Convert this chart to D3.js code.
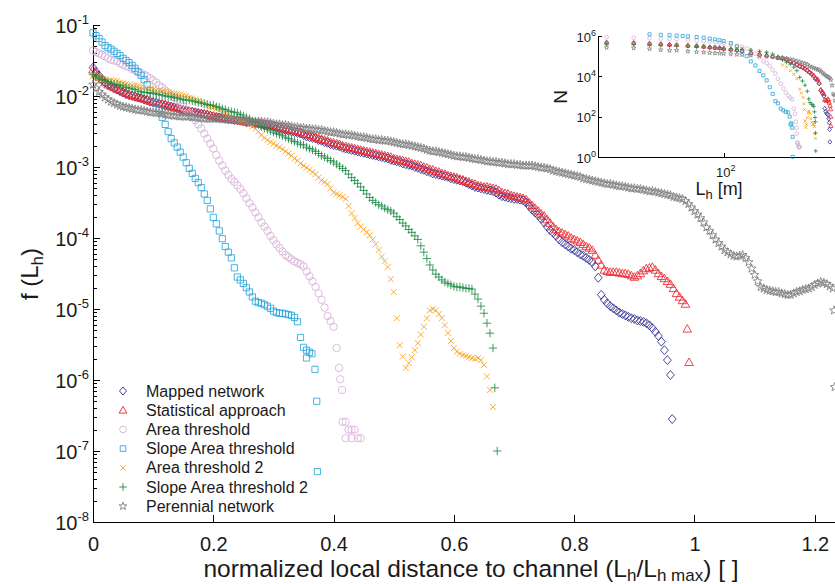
<!DOCTYPE html>
<html>
<head>
<meta charset="utf-8">
<script src="https://cdn.jsdelivr.net/npm/d3@7"></script>
<style>
  body { margin: 0; background: #fff; }
  svg { font-family: "Liberation Sans", Arial, Helvetica, sans-serif; }
  .axis path, .axis line { stroke: #000; stroke-width: 1; shape-rendering: crispEdges; }
</style>
</head>
<body>
<div id="chart"></div>
<script>
//svg size
let svgWidth = 835;
let svgHeight = 584;

/********************************************/
// main plot data: log10 f(Lh), one value every binStep of normalized distance, starting at 0
let binStep = 0.005;

let mappedNetwork = [
  -1.60, -1.66, -1.71, -1.77, -1.81, -1.84, -1.86, -1.89, -1.91, -1.93,
  -1.95, -1.97, -1.99, -2.00, -2.01, -2.02, -2.03, -2.05, -2.06, -2.08,
  -2.09, -2.10, -2.11, -2.12, -2.13, -2.14, -2.15, -2.16, -2.17, -2.19,
  -2.20, -2.21, -2.22, -2.22, -2.23, -2.24, -2.25, -2.26, -2.27, -2.28,
  -2.29, -2.30, -2.30, -2.31, -2.32, -2.33, -2.33, -2.34, -2.34, -2.35,
  -2.36, -2.37, -2.37, -2.38, -2.39, -2.39, -2.40, -2.41, -2.41, -2.42,
  -2.43, -2.45, -2.46, -2.47, -2.48, -2.49, -2.50, -2.51, -2.52, -2.53,
  -2.55, -2.57, -2.58, -2.59, -2.60, -2.62, -2.63, -2.65, -2.66, -2.68,
  -2.69, -2.70, -2.71, -2.73, -2.74, -2.75, -2.76, -2.77, -2.78, -2.79,
  -2.80, -2.81, -2.82, -2.83, -2.84, -2.85, -2.86, -2.87, -2.88, -2.90,
  -2.91, -2.92, -2.93, -2.95, -2.96, -2.97, -2.98, -3.00, -3.01, -3.03,
  -3.04, -3.06, -3.07, -3.09, -3.10, -3.11, -3.12, -3.13, -3.14, -3.16,
  -3.17, -3.18, -3.19, -3.20, -3.22, -3.24, -3.26, -3.28, -3.29, -3.30,
  -3.31, -3.32, -3.33, -3.34, -3.36, -3.39, -3.41, -3.42, -3.43, -3.44,
  -3.45, -3.45, -3.46, -3.47, -3.50, -3.55, -3.60, -3.64, -3.68, -3.73,
  -3.78, -3.84, -3.89, -3.93, -3.97, -4.02, -4.06, -4.09, -4.12, -4.15,
  -4.17, -4.20, -4.23, -4.25, -4.28, -4.31, -4.34, -4.40, -4.56, -4.80,
  -4.87, -4.92, -4.96, -4.99, -5.02, -5.05, -5.07, -5.09, -5.11, -5.13,
  -5.14, -5.16, -5.17, -5.18, -5.20, -5.23, -5.27, -5.32, -5.38, -5.46,
  -5.58, -5.72, -5.93];
let mappedTail = [[0.963, -6.55]];

let statisticalApproach = [
  -1.63, -1.68, -1.73, -1.77, -1.81, -1.84, -1.86, -1.88, -1.90, -1.92,
  -1.94, -1.96, -1.98, -1.99, -2.00, -2.02, -2.03, -2.04, -2.05, -2.07,
  -2.08, -2.09, -2.10, -2.11, -2.12, -2.14, -2.15, -2.16, -2.17, -2.18,
  -2.19, -2.20, -2.21, -2.22, -2.23, -2.24, -2.25, -2.25, -2.26, -2.27,
  -2.28, -2.29, -2.30, -2.30, -2.31, -2.32, -2.33, -2.33, -2.34, -2.35,
  -2.35, -2.36, -2.37, -2.37, -2.38, -2.38, -2.39, -2.40, -2.41, -2.41,
  -2.42, -2.43, -2.44, -2.45, -2.46, -2.47, -2.48, -2.49, -2.50, -2.51,
  -2.53, -2.54, -2.55, -2.56, -2.58, -2.59, -2.61, -2.62, -2.63, -2.65,
  -2.66, -2.67, -2.68, -2.70, -2.71, -2.72, -2.73, -2.74, -2.75, -2.76,
  -2.77, -2.78, -2.79, -2.80, -2.81, -2.82, -2.83, -2.84, -2.85, -2.86,
  -2.88, -2.89, -2.90, -2.91, -2.92, -2.93, -2.95, -2.96, -2.97, -2.98,
  -3.00, -3.01, -3.03, -3.04, -3.06, -3.07, -3.09, -3.10, -3.12, -3.13,
  -3.14, -3.15, -3.17, -3.18, -3.20, -3.21, -3.23, -3.24, -3.26, -3.27,
  -3.28, -3.28, -3.29, -3.30, -3.31, -3.33, -3.36, -3.37, -3.38, -3.40,
  -3.41, -3.42, -3.43, -3.44, -3.46, -3.50, -3.54, -3.58, -3.62, -3.66,
  -3.69, -3.74, -3.79, -3.84, -3.88, -3.91, -3.93, -3.95, -3.97, -4.00,
  -4.02, -4.04, -4.06, -4.09, -4.12, -4.14, -4.17, -4.24, -4.31, -4.38,
  -4.45, -4.47, -4.48, -4.48, -4.48, -4.49, -4.50, -4.50, -4.51, -4.53,
  -4.55, -4.53, -4.50, -4.46, -4.43, -4.42, -4.41, -4.45, -4.50, -4.54,
  -4.57, -4.61, -4.65, -4.71, -4.78, -4.83, -4.88];
let statisticalTail = [[0.985, -4.93], [0.988, -5.28], [0.991, -5.75]];

let areaThreshold = [
  -1.36, -1.38, -1.40, -1.42, -1.44, -1.47, -1.49, -1.50, -1.51, -1.54,
  -1.56, -1.58, -1.59, -1.62, -1.64, -1.66, -1.68, -1.70, -1.72, -1.75,
  -1.78, -1.81, -1.85, -1.88, -1.92, -1.95, -1.99, -2.02, -2.06, -2.10,
  -2.15, -2.19, -2.24, -2.29, -2.34, -2.40, -2.46, -2.53, -2.60, -2.67,
  -2.74, -2.83, -2.91, -2.98, -3.05, -3.11, -3.17, -3.21, -3.26, -3.31,
  -3.37, -3.44, -3.51, -3.57, -3.64, -3.71, -3.78, -3.84, -3.90, -3.97,
  -4.03, -4.09, -4.14, -4.19, -4.24, -4.27, -4.30, -4.33, -4.35, -4.37,
  -4.40, -4.47, -4.54, -4.61, -4.69, -4.78, -4.87, -4.98, -5.10, -5.17,
  -5.25];
let areaTail = [[0.405, -5.55], [0.409, -5.83], [0.411, -5.99], [0.414, -6.14],
  [0.415, -6.59], [0.42, -6.59], [0.425, -6.70], [0.43, -6.70], [0.435, -6.70],
  [0.42, -6.82], [0.43, -6.82], [0.44, -6.82], [0.445, -6.82]];

let slopeAreaThreshold = [
  -1.11, -1.15, -1.19, -1.24, -1.29, -1.32, -1.34, -1.37, -1.40, -1.43,
  -1.47, -1.50, -1.53, -1.57, -1.61, -1.66, -1.71, -1.77, -1.84, -1.92,
  -2.01, -2.10, -2.20, -2.30, -2.40, -2.50, -2.60, -2.66, -2.72, -2.79,
  -2.86, -2.94, -3.02, -3.09, -3.16, -3.22, -3.29, -3.38, -3.47, -3.59,
  -3.71, -3.80, -3.90, -4.01, -4.12, -4.20, -4.28, -4.42, -4.55, -4.59,
  -4.64, -4.70, -4.76, -4.83, -4.89, -4.91, -4.92, -4.94, -4.96, -4.99,
  -5.03, -5.05, -5.06, -5.06, -5.07, -5.08, -5.09, -5.12, -5.18, -5.40,
  -5.54, -5.58, -5.61];
let slopeAreaTail = [[0.355, -5.69], [0.364, -5.63], [0.369, -5.85], [0.372, -6.30], [0.373, -7.29]];

let areaThreshold2 = [
  -1.72, -1.74, -1.75, -1.76, -1.77, -1.78, -1.78, -1.79, -1.79, -1.81,
  -1.82, -1.83, -1.84, -1.85, -1.85, -1.86, -1.87, -1.88, -1.89, -1.90,
  -1.91, -1.92, -1.92, -1.93, -1.94, -1.95, -1.96, -1.97, -1.97, -1.98,
  -1.99, -2.00, -2.02, -2.03, -2.05, -2.07, -2.09, -2.11, -2.13, -2.15,
  -2.16, -2.18, -2.20, -2.22, -2.24, -2.26, -2.29, -2.31, -2.33, -2.35,
  -2.36, -2.38, -2.40, -2.43, -2.46, -2.50, -2.55, -2.59, -2.62, -2.65,
  -2.67, -2.70, -2.72, -2.75, -2.78, -2.81, -2.84, -2.88, -2.91, -2.95,
  -2.98, -3.01, -3.04, -3.07, -3.10, -3.15, -3.19, -3.21, -3.24, -3.30,
  -3.36, -3.38, -3.40, -3.42, -3.45, -3.55, -3.65, -3.72, -3.79, -3.84,
  -3.88, -3.92, -3.96, -4.02, -4.09, -4.17, -4.26, -4.33, -4.41, -4.58,
  -4.76, -5.13, -5.51, -5.67, -5.83, -5.76, -5.68, -5.58, -5.48, -5.36,
  -5.25, -5.13, -5.02, -5.00, -5.02, -5.07, -5.13, -5.23, -5.34, -5.45,
  -5.55, -5.60, -5.63, -5.65, -5.66, -5.68, -5.69, -5.70, -5.69, -5.72,
  -5.79, -5.95, -6.14];
let area2Tail = [[0.665, -6.38]];

let slopeAreaThreshold2 = [
  -1.70, -1.73, -1.75, -1.77, -1.78, -1.80, -1.82, -1.83, -1.84, -1.85,
  -1.86, -1.88, -1.89, -1.90, -1.91, -1.93, -1.94, -1.95, -1.95, -1.96,
  -1.96, -1.97, -1.98, -1.99, -2.00, -2.01, -2.01, -2.02, -2.03, -2.04,
  -2.05, -2.06, -2.06, -2.07, -2.08, -2.09, -2.10, -2.11, -2.12, -2.13,
  -2.13, -2.15, -2.16, -2.18, -2.19, -2.21, -2.22, -2.23, -2.24, -2.26,
  -2.28, -2.30, -2.32, -2.35, -2.37, -2.40, -2.43, -2.45, -2.47, -2.49,
  -2.51, -2.53, -2.54, -2.56, -2.58, -2.60, -2.62, -2.64, -2.66, -2.68,
  -2.69, -2.72, -2.74, -2.76, -2.78, -2.81, -2.84, -2.86, -2.88, -2.91,
  -2.93, -2.96, -2.99, -3.02, -3.05, -3.10, -3.15, -3.19, -3.23, -3.28,
  -3.33, -3.38, -3.43, -3.47, -3.50, -3.53, -3.55, -3.58, -3.60, -3.62,
  -3.65, -3.70, -3.74, -3.79, -3.83, -3.88, -3.92, -3.97, -4.02, -4.11,
  -4.20, -4.29, -4.38, -4.45, -4.51, -4.55, -4.59, -4.62, -4.64, -4.66,
  -4.68, -4.69, -4.69, -4.70, -4.71, -4.71, -4.72, -4.79, -4.86, -4.96,
  -5.06, -5.20, -5.34];
let slopeArea2Tail = [[0.665, -5.55], [0.668, -6.11], [0.672, -7.00]];

let perennialNetwork = [
  -1.84, -1.89, -1.94, -1.98, -2.02, -2.05, -2.08, -2.10, -2.12, -2.14,
  -2.15, -2.16, -2.17, -2.18, -2.19, -2.20, -2.20, -2.21, -2.22, -2.23,
  -2.23, -2.24, -2.24, -2.25, -2.26, -2.27, -2.27, -2.28, -2.28, -2.29,
  -2.29, -2.29, -2.29, -2.30, -2.30, -2.31, -2.31, -2.32, -2.32, -2.32,
  -2.32, -2.32, -2.32, -2.33, -2.33, -2.33, -2.33, -2.34, -2.34, -2.34,
  -2.34, -2.35, -2.35, -2.36, -2.36, -2.36, -2.36, -2.37, -2.37, -2.38,
  -2.39, -2.40, -2.40, -2.41, -2.41, -2.42, -2.43, -2.44, -2.44, -2.45,
  -2.45, -2.46, -2.46, -2.47, -2.47, -2.48, -2.48, -2.49, -2.50, -2.51,
  -2.51, -2.52, -2.53, -2.54, -2.54, -2.55, -2.55, -2.56, -2.57, -2.58,
  -2.58, -2.59, -2.60, -2.61, -2.61, -2.62, -2.62, -2.63, -2.63, -2.64,
  -2.65, -2.66, -2.67, -2.68, -2.68, -2.69, -2.70, -2.71, -2.72, -2.73,
  -2.74, -2.76, -2.77, -2.78, -2.78, -2.79, -2.80, -2.81, -2.82, -2.83,
  -2.84, -2.85, -2.85, -2.86, -2.86, -2.87, -2.88, -2.89, -2.89, -2.90,
  -2.91, -2.92, -2.92, -2.93, -2.93, -2.94, -2.94, -2.95, -2.96, -2.96,
  -2.96, -2.97, -2.97, -2.98, -2.98, -2.98, -2.98, -2.99, -3.00, -3.01,
  -3.01, -3.02, -3.03, -3.05, -3.06, -3.07, -3.08, -3.09, -3.10, -3.11,
  -3.12, -3.13, -3.14, -3.16, -3.17, -3.18, -3.19, -3.20, -3.21, -3.22,
  -3.23, -3.24, -3.24, -3.25, -3.26, -3.27, -3.27, -3.28, -3.29, -3.30,
  -3.30, -3.31, -3.31, -3.32, -3.33, -3.34, -3.34, -3.35, -3.36, -3.37,
  -3.38, -3.39, -3.40, -3.42, -3.43, -3.44, -3.45, -3.48, -3.52, -3.57,
  -3.62, -3.67, -3.72, -3.78, -3.85, -3.90, -3.96, -4.02, -4.07, -4.12,
  -4.17, -4.20, -4.23, -4.25, -4.26, -4.25, -4.24, -4.28, -4.34, -4.43,
  -4.52, -4.61, -4.69, -4.71, -4.73, -4.74, -4.75, -4.76, -4.76, -4.78,
  -4.79, -4.80, -4.80, -4.78, -4.76, -4.75, -4.73, -4.72, -4.71, -4.69,
  -4.66, -4.64, -4.62, -4.63, -4.65, -4.68, -4.71];
let perennialTail = [[1.232, -5.02], [1.233, -6.10]];

/********************************************/
// inset data: [Lh in m, log10 N]
let insetMapped = [[5, 5.68], [10, 5.66], [15, 5.63], [20, 5.6], [25, 5.57], [30, 5.55], [40, 5.52], [50, 5.5],
  [60, 5.47], [70, 5.44], [80, 5.42], [90, 5.4], [100, 5.37], [120, 5.33], [140, 5.3], [160, 5.26], [200, 5.15],
  [250, 5.08], [300, 5.03], [350, 4.98], [400, 4.92], [450, 4.89], [500, 4.82], [550, 4.72], [600, 4.66],
  [650, 4.57], [700, 4.49], [750, 4.44], [800, 4.37], [850, 4.28], [900, 4.19], [950, 4.11], [1000, 4.01],
  [1050, 3.86], [1100, 3.82], [1150, 3.64], [1200, 3.3], [1250, 3.16], [1300, 3.03], [1330, 2.4], [1360, 2.26],
  [1400, 2.15], [1440, 2.1], [1470, 1.9], [1490, 1.7], [1505, 1.37], [1512, 0.75]];
let insetStatistical = [[5, 5.67], [10, 5.65], [15, 5.62], [20, 5.6], [25, 5.58], [30, 5.56], [40, 5.53], [50, 5.51],
  [60, 5.48], [70, 5.45], [80, 5.43], [90, 5.41], [100, 5.38], [120, 5.34], [140, 5.31], [160, 5.27], [200, 5.17],
  [250, 5.1], [300, 5.05], [350, 5.0], [400, 4.94], [450, 4.9], [500, 4.84], [550, 4.75], [600, 4.69], [650, 4.6],
  [700, 4.53], [750, 4.47], [800, 4.4], [850, 4.32], [900, 4.22], [950, 4.14], [1000, 4.05], [1050, 3.92],
  [1100, 3.87], [1150, 3.7], [1200, 3.35], [1250, 3.25], [1300, 3.13], [1330, 2.85], [1360, 2.82], [1400, 2.78],
  [1430, 2.88], [1460, 2.85], [1490, 2.7], [1520, 2.55], [1540, 2.37], [1545, 2.0], [1550, 1.55]];
let insetArea = [[5, 5.93], [10, 5.91], [15, 5.89], [20, 5.87], [25, 5.86], [30, 5.84], [40, 5.8], [50, 5.78],
  [60, 5.75], [70, 5.73], [80, 5.7], [90, 5.67], [100, 5.65], [120, 5.59], [140, 5.52], [160, 5.46], [180, 5.38],
  [200, 5.27], [225, 5.12], [250, 4.95], [275, 4.75], [300, 4.66], [325, 4.52], [350, 4.32], [375, 4.14],
  [400, 3.88], [430, 3.63], [460, 3.4], [490, 3.2], [520, 3.05], [550, 2.95], [575, 2.85], [600, 2.4],
  [620, 2.15], [635, 1.75], [645, 1.45], [650, 1.16], [655, 0.71], [665, 0.71], [670, 0.6], [680, 0.5],
  [690, 0.48], [700, 0.5]];
let insetSlopeArea = [[15, 6.08], [20, 6.06], [25, 6.04], [30, 6.02], [35, 6.0], [40, 5.98], [50, 5.95], [60, 5.92],
  [70, 5.87], [80, 5.83], [90, 5.79], [100, 5.75], [120, 5.65], [140, 5.48], [160, 5.25], [180, 5.0], [200, 4.74],
  [225, 4.54], [250, 4.27], [275, 4.05], [300, 3.8], [325, 3.46], [350, 3.13], [375, 2.77], [400, 2.66],
  [430, 2.4], [460, 2.31], [490, 2.24], [520, 2.21], [540, 2.0], [555, 1.61], [565, 1.67], [578, 1.45],
  [583, 1.0], [585, 0.01]];
let insetArea2 = [[5, 5.57], [10, 5.56], [15, 5.56], [20, 5.55], [30, 5.54], [40, 5.53], [60, 5.51], [80, 5.48],
  [100, 5.47], [120, 5.45], [140, 5.41], [160, 5.39], [200, 5.35], [250, 5.26], [300, 5.18], [350, 5.05],
  [400, 4.92], [450, 4.56], [500, 4.47], [550, 4.28], [600, 4.1], [650, 3.88], [700, 3.37], [730, 3.17],
  [760, 2.95], [780, 2.64], [790, 2.35], [800, 1.79], [815, 1.47], [830, 1.62], [850, 1.95], [870, 2.2],
  [890, 2.28], [910, 2.17], [930, 1.9], [950, 1.72], [980, 1.64], [1000, 1.61], [1020, 1.51], [1035, 1.16],
  [1043, 0.92]];
let insetSlopeArea2 = [[5, 5.6], [10, 5.58], [15, 5.55], [20, 5.54], [25, 5.53], [30, 5.52], [40, 5.5], [50, 5.48],
  [60, 5.46], [70, 5.45], [80, 5.44], [90, 5.42], [100, 5.4], [120, 5.37], [140, 5.35], [160, 5.34], [200, 5.29],
  [250, 5.23], [300, 5.19], [350, 5.1], [400, 4.97], [450, 4.82], [500, 4.7], [550, 4.6], [600, 4.45],
  [650, 4.28], [700, 3.95], [750, 3.77], [800, 3.56], [850, 3.26], [880, 2.88], [910, 2.7], [950, 2.61],
  [980, 2.58], [1000, 2.5], [1020, 2.24], [1035, 1.96], [1043, 1.75], [1047, 1.19], [1054, 0.3]];
let insetPerennial = [[5, 5.43], [10, 5.4], [15, 5.36], [20, 5.31], [25, 5.28], [30, 5.29], [40, 5.24], [50, 5.21],
  [60, 5.19], [70, 5.17], [80, 5.15], [90, 5.14], [100, 5.13], [120, 5.11], [140, 5.08], [160, 5.07], [200, 5.04],
  [250, 5.01], [300, 4.98], [350, 4.97], [400, 4.95], [450, 4.93], [500, 4.89], [550, 4.85], [600, 4.81],
  [650, 4.76], [700, 4.71], [750, 4.67], [800, 4.63], [850, 4.59], [900, 4.49], [950, 4.46], [1000, 4.41],
  [1050, 4.38], [1100, 4.34], [1150, 4.32], [1200, 4.25], [1250, 4.18], [1300, 4.11], [1350, 4.06],
  [1400, 4.0], [1450, 3.97], [1500, 3.92], [1550, 3.83], [1600, 3.55], [1650, 3.12], [1700, 3.06], [1730, 2.8]];

// axis ticks
let yMajorExp = [-8, -7, -6, -5, -4, -3, -2, -1];
let xTickValues = [0, 0.2, 0.4, 0.6, 0.8, 1, 1.2];
let insetYExp = [0, 2, 4, 6];
let insetXExp = [2];

/********************************************/
// marker shapes (size = half width in px)
let markers = {
  diamond: { draw(c, r) { c.moveTo(0, -r * 1.15); c.lineTo(r, 0); c.lineTo(0, r * 1.15); c.lineTo(-r, 0); c.closePath(); } },
  triangle: { draw(c, r) { c.moveTo(0, -r); c.lineTo(r, r * 0.75); c.lineTo(-r, r * 0.75); c.closePath(); } },
  circle: { draw(c, r) { c.moveTo(r, 0); c.arc(0, 0, r, 0, 2 * Math.PI); } },
  square: { draw(c, r) { c.rect(-r, -r, 2 * r, 2 * r); } },
  cross: { draw(c, r) { c.moveTo(-r, -r); c.lineTo(r, r); c.moveTo(-r, r); c.lineTo(r, -r); } },
  plus: { draw(c, r) { c.moveTo(-r, 0); c.lineTo(r, 0); c.moveTo(0, -r); c.lineTo(0, r); } },
  star: {
    draw(c, r) {
      for (let i = 0; i < 10; i++) {
        let rad = i % 2 ? r * 0.4 : r;
        let a = -Math.PI / 2 + i * Math.PI / 5;
        if (i === 0) c.moveTo(rad * Math.cos(a), rad * Math.sin(a));
        else c.lineTo(rad * Math.cos(a), rad * Math.sin(a));
      }
      c.closePath();
    }
  }
};

let series = [
  { name: "Mapped network", values: mappedNetwork, tail: mappedTail, inset: insetMapped, shape: "diamond", size: 3.9, color: "#2d2a8c" },
  { name: "Statistical approach", values: statisticalApproach, tail: statisticalTail, inset: insetStatistical, shape: "triangle", size: 4.3, color: "#e8262e" },
  { name: "Area threshold", values: areaThreshold, tail: areaTail, inset: insetArea, shape: "circle", size: 3.7, color: "#d6b0d8" },
  { name: "Slope Area threshold", values: slopeAreaThreshold, tail: slopeAreaTail, inset: insetSlopeArea, shape: "square", size: 3.1, color: "#2aa7da" },
  { name: "Area threshold 2", values: areaThreshold2, tail: area2Tail, inset: insetArea2, shape: "cross", size: 3.0, color: "#f5a11c" },
  { name: "Slope Area threshold 2", values: slopeAreaThreshold2, tail: slopeArea2Tail, inset: insetSlopeArea2, shape: "plus", size: 4.2, color: "#1b8a44" },
  { name: "Perennial network", values: perennialNetwork, tail: perennialTail, inset: insetPerennial, shape: "star", size: 4.6, color: "#808080" }
];

/********************************************/
let svg = d3.select("#chart").append("svg")
  .attr("width", svgWidth)
  .attr("height", svgHeight);

let xScale = d3.scaleLinear().domain([0, 1.2336]).range([93, 835]);
let yScale = d3.scaleLog().domain([1e-8, 1e-1]).range([522, 25]);

let yMinor = [];
yMajorExp.forEach(e => { if (e < -1) for (let m = 2; m <= 9; m++) yMinor.push(m * Math.pow(10, e)); });

// minor y ticks
svg.append("g").attr("class", "axis").attr("transform", "translate(93,0)")
  .call(d3.axisLeft(yScale).tickValues(yMinor).tickSizeInner(-4).tickSizeOuter(0).tickFormat(""))
  .call(g => g.select(".domain").remove());

// major y ticks
svg.append("g").attr("class", "axis").attr("transform", "translate(93,0)")
  .call(d3.axisLeft(yScale).tickValues(yMajorExp.map(e => Math.pow(10, e)))
    .tickSizeInner(-7).tickSizeOuter(0).tickFormat(""));

yMajorExp.forEach(e => {
  let t = svg.append("text")
    .attr("x", 89)
    .attr("y", yScale(Math.pow(10, e)) + 8)
    .attr("text-anchor", "end")
    .attr("fill", "#1a1a1a");
  t.append("tspan").attr("font-size", 20).text("10");
  t.append("tspan").attr("font-size", 13).attr("dy", -9).text(e);
});

// x axis
svg.append("g").attr("class", "axis").attr("transform", "translate(0,522)")
  .call(d3.axisBottom(xScale).tickValues(xTickValues).tickSizeInner(-7).tickSizeOuter(0)
    .tickPadding(15).tickFormat(d3.format("")))
  .call(g => g.selectAll("text").attr("font-size", 20).attr("fill", "#1a1a1a")
    .attr("font-family", "Liberation Sans, Arial, sans-serif"));

// axis titles
let xTitle = svg.append("text")
  .attr("x", 471).attr("y", 577)
  .attr("text-anchor", "middle")
  .attr("font-size", 24.5)
  .attr("fill", "#1a1a1a");
xTitle.append("tspan").text("normalized local distance to channel (L");
xTitle.append("tspan").attr("font-size", 17).attr("dy", 4).text("h");
xTitle.append("tspan").attr("dy", -4).text("/L");
xTitle.append("tspan").attr("font-size", 17).attr("dy", 4).text("h max");
xTitle.append("tspan").attr("dy", -4).text(") [ ]");

let yTitle = svg.append("text")
  .attr("transform", "translate(38,274) rotate(-90)")
  .attr("text-anchor", "middle")
  .attr("font-size", 24)
  .attr("fill", "#1a1a1a");
yTitle.append("tspan").text("f (L");
yTitle.append("tspan").attr("font-size", 17).attr("dy", 5).text("h");
yTitle.append("tspan").attr("dy", -5).text(")");

/********************************************/
// main scatter
series.forEach(s => {
  let pts = s.values.map((v, i) => [i * binStep, v]).concat(s.tail);
  svg.append("g")
    .selectAll("path")
    .data(pts)
    .enter()
    .append("path")
    .attr("transform", d => `translate(${xScale(d[0])},${yScale(Math.pow(10, d[1]))})`)
    .attr("d", d3.symbol().type(markers[s.shape]).size(s.size))
    .attr("fill", "none")
    .attr("stroke", s.color)
    .attr("stroke-width", 0.85);
});

/********************************************/
// legend
let legend = svg.append("g").attr("transform", "translate(123,391)");
series.forEach((s, i) => {
  let row = legend.append("g").attr("transform", `translate(0,${i * 19.2})`);
  row.append("path")
    .attr("d", d3.symbol().type(markers[s.shape]).size(s.size * 0.9))
    .attr("fill", "none")
    .attr("stroke", s.color)
    .attr("stroke-width", 0.9);
  row.append("text")
    .attr("x", 23).attr("y", 5.5)
    .attr("font-size", 16)
    .attr("fill", "#1a1a1a")
    .text(s.name);
});

/********************************************/
// inset
let xIn = d3.scaleLog().domain([4.01, 1725]).range([598, 835]);
let yIn = d3.scaleLog().domain([1, 1e6]).range([157, 36]);

svg.append("g").attr("class", "axis").attr("transform", "translate(598,0)")
  .call(d3.axisLeft(yIn).tickValues(insetYExp.map(e => Math.pow(10, e)))
    .tickSizeInner(-4).tickSizeOuter(0).tickFormat(""));
svg.append("g").attr("class", "axis").attr("transform", "translate(0,157)")
  .call(d3.axisBottom(xIn).tickValues(insetXExp.map(e => Math.pow(10, e)))
    .tickSizeInner(-4).tickSizeOuter(0).tickFormat(""));

insetYExp.forEach(e => {
  let t = svg.append("text")
    .attr("x", 596).attr("y", yIn(Math.pow(10, e)) + 5.5)
    .attr("text-anchor", "end")
    .attr("fill", "#1a1a1a");
  t.append("tspan").attr("font-size", 13).text("10");
  t.append("tspan").attr("font-size", 9).attr("dy", -6).text(e);
});
insetXExp.forEach(e => {
  let t = svg.append("text")
    .attr("x", xIn(Math.pow(10, e)) + 2).attr("y", 177)
    .attr("text-anchor", "middle")
    .attr("fill", "#1a1a1a");
  t.append("tspan").attr("font-size", 13).text("10");
  t.append("tspan").attr("font-size", 9).attr("dy", -6).text(e);
});

svg.append("text")
  .attr("transform", "translate(567,97) rotate(-90)")
  .attr("text-anchor", "middle")
  .attr("font-size", 19)
  .attr("fill", "#1a1a1a")
  .text("N");

let lTitle = svg.append("text")
  .attr("x", 719).attr("y", 195)
  .attr("text-anchor", "middle")
  .attr("font-size", 18)
  .attr("fill", "#1a1a1a");
lTitle.append("tspan").text("L");
lTitle.append("tspan").attr("font-size", 13).attr("dy", 4).text("h");
lTitle.append("tspan").attr("dy", -4).text(" [m]");

series.forEach(s => {
  svg.append("g")
    .selectAll("path")
    .data(s.inset)
    .enter()
    .append("path")
    .attr("transform", d => `translate(${xIn(d[0])},${yIn(Math.pow(10, d[1]))})`)
    .attr("d", d3.symbol().type(markers[s.shape]).size(s.size * 0.5))
    .attr("fill", "none")
    .attr("stroke", s.color)
    .attr("stroke-width", 0.8);
});
</script>
</body>
</html>
